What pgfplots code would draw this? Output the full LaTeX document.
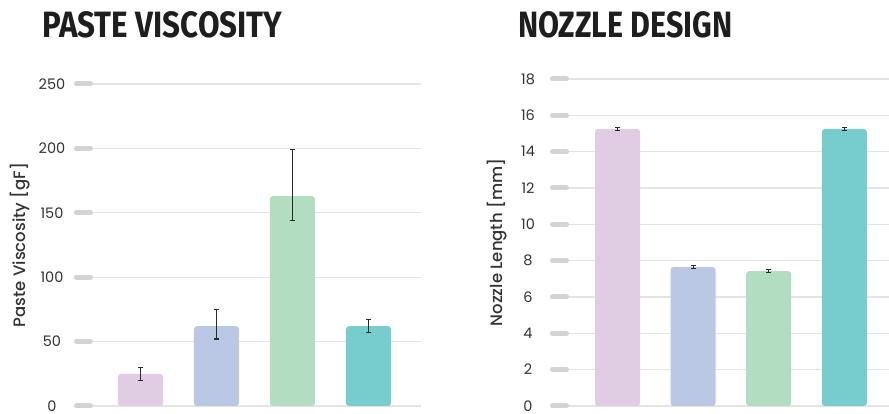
\documentclass[border=0pt]{standalone}
\usepackage{fontspec}
\setmainfont{Poppins}
\newfontfamily\labelfont{Poppins}[UprightFont=* Medium]
\newfontfamily\titlefont{Fira Sans}
\usepackage{graphicx}
\usepackage{pgfplots}
\pgfplotsset{compat=1.18}
\definecolor{c1}{HTML}{E0CCE3}
\definecolor{c2}{HTML}{BAC8E6}
\definecolor{c3}{HTML}{B3DDC1}
\definecolor{c4}{HTML}{77CDCE}
\definecolor{gridgray}{HTML}{E4E4E4}
\definecolor{tickgray}{HTML}{D2D3D5}
\definecolor{labelgray}{HTML}{333333}
\definecolor{errc}{HTML}{2A2A2A}
\definecolor{titlec}{HTML}{1E1E1E}
\pgfplotsset{
  panel/.style={
    scale only axis, anchor=south west,
    ymin=0, xtick=\empty,
    axis line style={draw=none},
    ymajorgrids, grid style={line width=1.2pt, color=gridgray},
    ytick pos=left, ytick align=inside, major tick length=14pt,
    ytick style={line width=5pt, line cap=round, color=tickgray},
    /pgf/number format/assume math mode=true,
    yticklabel style={anchor=center, xshift=-24.5pt, font=\fontsize{14.5}{14.5}\selectfont, text=labelgray},
    ylabel style={anchor=center, font=\labelfont\fontsize{16.5}{16.5}\selectfont, text=labelgray},
    clip=false,
  },
  mybar/.style={ybar, bar width=45pt, bar shift=0pt, draw=none, fill=#1, rounded corners=3pt,
    error bars/.cd, y dir=both, y explicit,
    error bar style={line width=1.2pt, color=errc, rounded corners=0pt},
    error mark options={rotate=90, mark size=2.5pt, line width=1.1pt, color=errc}},
}
\begin{document}
\begin{tikzpicture}
\path[use as bounding box] (0,0) rectangle (889pt,414pt);
% titles
\node[anchor=south west, inner sep=0pt, text=titlec] at (42pt,376pt)
  {\resizebox{240pt}{26pt}{\titlefont\bfseries PASTE VISCOSITY}};
\node[anchor=south west, inner sep=0pt, text=titlec] at (518pt,376pt)
  {\resizebox{214pt}{26pt}{\titlefont\bfseries NOZZLE DESIGN}};

\begin{axis}[panel,
  at={(76.5pt,8pt)}, width=344.5pt, height=322pt,
  xmin=-0.842, xmax=3.691, ymax=250, ytick={0,50,...,250},
  ylabel={Paste Viscosity [gF]},
  ylabel style={at={(axis description cs:-0.164,0.5)}},
]
\addplot[mybar=c1] coordinates {(0,25) +- (0,5)};
\addplot[mybar=c2] coordinates {(1,62) += (0,13) -= (0,10)};
\addplot[mybar=c3] coordinates {(2,163) += (0,36) -= (0,19)};
\addplot[mybar=c4] coordinates {(3,62) +- (0,5)};
\end{axis}

\begin{axis}[panel,
  at={(552.5pt,8pt)}, width=336pt, height=327pt,
  xmin=-0.860, xmax=3.585, ymax=18, ytick={0,2,...,18},
  ylabel={Nozzle Length [mm]},
  ylabel style={at={(axis description cs:-0.165,0.5)}},
]
\addplot[mybar=c1] coordinates {(0,15.25) +- (0,0.08)};
\addplot[mybar=c2] coordinates {(1,7.65) +- (0,0.08)};
\addplot[mybar=c3] coordinates {(2,7.42) +- (0,0.08)};
\addplot[mybar=c4] coordinates {(3,15.25) +- (0,0.08)};
\end{axis}
\end{tikzpicture}
\end{document}
